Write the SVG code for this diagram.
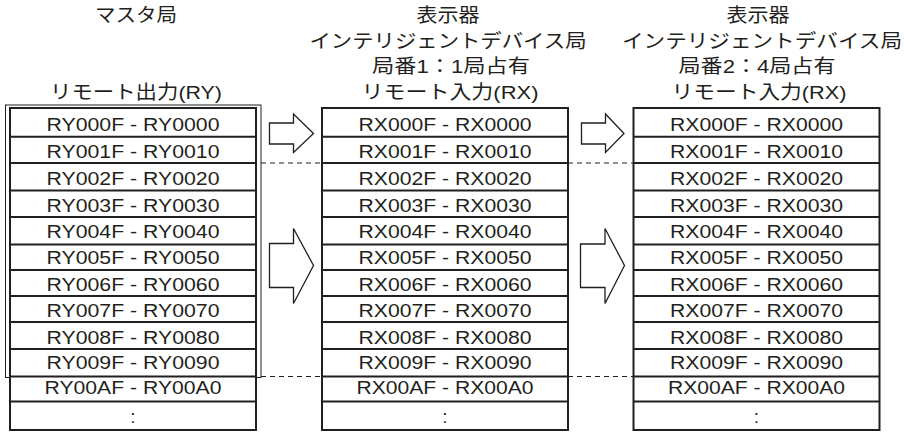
<svg xmlns="http://www.w3.org/2000/svg" width="904" height="434" viewBox="0 0 904 434">
<style>
.bg{fill:#ffffff}
.tbl{fill:#ffffff;stroke:#231f20;stroke-width:2}
.row{stroke:#231f20;stroke-width:2}
.frame{fill:none;stroke:#231f20;stroke-width:1}
.arrow{fill:#ffffff;stroke:#231f20;stroke-width:1.3;stroke-linejoin:miter}
.dash{stroke:#231f20;stroke-width:1;stroke-dasharray:5,4}
.hd{font-family:"Liberation Sans","Noto Sans CJK JP",sans-serif;font-size:19px;fill:#231f20;text-anchor:middle}
.cell{font-family:"Liberation Sans",Arial,sans-serif;font-size:19px;fill:#231f20;text-anchor:middle}
</style>
<defs>
<g id="rows">
<line class="row" x1="0" x2="246" y1="136.7" y2="136.7"/>
<line class="row" x1="0" x2="246" y1="163" y2="163"/>
<line class="row" x1="0" x2="246" y1="190.5" y2="190.5"/>
<line class="row" x1="0" x2="246" y1="217" y2="217"/>
<line class="row" x1="0" x2="246" y1="244.5" y2="244.5"/>
<line class="row" x1="0" x2="246" y1="270" y2="270"/>
<line class="row" x1="0" x2="246" y1="296" y2="296"/>
<line class="row" x1="0" x2="246" y1="322" y2="322"/>
<line class="row" x1="0" x2="246" y1="349" y2="349"/>
<line class="row" x1="0" x2="246" y1="376.5" y2="376.5"/>
<line class="row" x1="0" x2="246" y1="401.5" y2="401.5"/>
</g>
</defs>
<rect class="bg" x="0" y="0" width="904" height="434"/>

<g id="connectors">
<line class="dash" x1="261" y1="163" x2="322" y2="163"/>
<line class="dash" x1="568" y1="163" x2="633.5" y2="163"/>
<line class="dash" x1="261" y1="376.5" x2="322" y2="376.5"/>
<line class="dash" x1="568" y1="376.5" x2="633.5" y2="376.5"/>
<polygon class="arrow" points="269.5,123 293.5,123 293.5,114 313.5,133.5 293.5,152.5 293.5,144 269.5,144"/>
<polygon class="arrow" points="581.5,123 605.5,123 605.5,114 624,133.5 605.5,152.5 605.5,144 581.5,144"/>
<polygon class="arrow" points="269.5,243.5 293.5,243.5 293.5,228.5 313.5,265.5 293.5,303.5 293.5,287.5 269.5,287.5"/>
<polygon class="arrow" points="580.5,244 605,244 605,228.5 624.5,265.5 605,303.5 605,287.5 580.5,287.5"/>
</g>

<g id="master">
<text class="hd" x="136" y="22" textLength="82" lengthAdjust="spacingAndGlyphs">マスタ局</text>
<text class="hd" x="136" y="98.5" textLength="172" lengthAdjust="spacingAndGlyphs">リモート出力(RY)</text>
<rect class="frame" x="5.5" y="105" width="255.5" height="272.5"/>
<rect class="tbl" x="10" y="108" width="246" height="322"/>
<use href="#rows" x="10"/>
<g class="cell">
<text x="133" y="130.5" textLength="173" lengthAdjust="spacingAndGlyphs">RY000F - RY0000</text>
<text x="133" y="157.5" textLength="173" lengthAdjust="spacingAndGlyphs">RY001F - RY0010</text>
<text x="133" y="184.5" textLength="173" lengthAdjust="spacingAndGlyphs">RY002F - RY0020</text>
<text x="133" y="211.5" textLength="173" lengthAdjust="spacingAndGlyphs">RY003F - RY0030</text>
<text x="133" y="238" textLength="173" lengthAdjust="spacingAndGlyphs">RY004F - RY0040</text>
<text x="133" y="264" textLength="173" lengthAdjust="spacingAndGlyphs">RY005F - RY0050</text>
<text x="133" y="290.5" textLength="173" lengthAdjust="spacingAndGlyphs">RY006F - RY0060</text>
<text x="133" y="317" textLength="173" lengthAdjust="spacingAndGlyphs">RY007F - RY0070</text>
<text x="133" y="343.5" textLength="173" lengthAdjust="spacingAndGlyphs">RY008F - RY0080</text>
<text x="133" y="368.5" textLength="173" lengthAdjust="spacingAndGlyphs">RY009F - RY0090</text>
<text x="133" y="394" textLength="177" lengthAdjust="spacingAndGlyphs">RY00AF - RY00A0</text>
<text x="133" y="423">:</text>
</g>
</g>

<g id="device1">
<text class="hd" x="448" y="22" textLength="63" lengthAdjust="spacingAndGlyphs">表示器</text>
<text class="hd" x="448" y="47.5" textLength="277" lengthAdjust="spacingAndGlyphs">インテリジェントデバイス局</text>
<text class="hd" x="451" y="73" textLength="158" lengthAdjust="spacingAndGlyphs">局番1：1局占有</text>
<text class="hd" x="450" y="98.5" textLength="177" lengthAdjust="spacingAndGlyphs">リモート入力(RX)</text>
<rect class="tbl" x="322" y="108" width="246" height="322"/>
<use href="#rows" x="322"/>
<g class="cell">
<text x="445" y="130.5" textLength="173" lengthAdjust="spacingAndGlyphs">RX000F - RX0000</text>
<text x="445" y="157.5" textLength="173" lengthAdjust="spacingAndGlyphs">RX001F - RX0010</text>
<text x="445" y="184.5" textLength="173" lengthAdjust="spacingAndGlyphs">RX002F - RX0020</text>
<text x="445" y="211.5" textLength="173" lengthAdjust="spacingAndGlyphs">RX003F - RX0030</text>
<text x="445" y="238" textLength="173" lengthAdjust="spacingAndGlyphs">RX004F - RX0040</text>
<text x="445" y="264" textLength="173" lengthAdjust="spacingAndGlyphs">RX005F - RX0050</text>
<text x="445" y="290.5" textLength="173" lengthAdjust="spacingAndGlyphs">RX006F - RX0060</text>
<text x="445" y="317" textLength="173" lengthAdjust="spacingAndGlyphs">RX007F - RX0070</text>
<text x="445" y="343.5" textLength="173" lengthAdjust="spacingAndGlyphs">RX008F - RX0080</text>
<text x="445" y="368.5" textLength="173" lengthAdjust="spacingAndGlyphs">RX009F - RX0090</text>
<text x="445" y="394" textLength="177" lengthAdjust="spacingAndGlyphs">RX00AF - RX00A0</text>
<text x="445" y="423">:</text>
</g>
</g>

<g id="device2">
<text class="hd" x="758" y="22" textLength="63" lengthAdjust="spacingAndGlyphs">表示器</text>
<text class="hd" x="762" y="47.5" textLength="280" lengthAdjust="spacingAndGlyphs">インテリジェントデバイス局</text>
<text class="hd" x="757" y="73" textLength="157" lengthAdjust="spacingAndGlyphs">局番2：4局占有</text>
<text class="hd" x="759" y="98.5" textLength="175" lengthAdjust="spacingAndGlyphs">リモート入力(RX)</text>
<rect class="tbl" x="633.5" y="108" width="246" height="322"/>
<use href="#rows" x="633.5"/>
<g class="cell">
<text x="756.5" y="130.5" textLength="173" lengthAdjust="spacingAndGlyphs">RX000F - RX0000</text>
<text x="756.5" y="157.5" textLength="173" lengthAdjust="spacingAndGlyphs">RX001F - RX0010</text>
<text x="756.5" y="184.5" textLength="173" lengthAdjust="spacingAndGlyphs">RX002F - RX0020</text>
<text x="756.5" y="211.5" textLength="173" lengthAdjust="spacingAndGlyphs">RX003F - RX0030</text>
<text x="756.5" y="238" textLength="173" lengthAdjust="spacingAndGlyphs">RX004F - RX0040</text>
<text x="756.5" y="264" textLength="173" lengthAdjust="spacingAndGlyphs">RX005F - RX0050</text>
<text x="756.5" y="290.5" textLength="173" lengthAdjust="spacingAndGlyphs">RX006F - RX0060</text>
<text x="756.5" y="317" textLength="173" lengthAdjust="spacingAndGlyphs">RX007F - RX0070</text>
<text x="756.5" y="343.5" textLength="173" lengthAdjust="spacingAndGlyphs">RX008F - RX0080</text>
<text x="756.5" y="368.5" textLength="173" lengthAdjust="spacingAndGlyphs">RX009F - RX0090</text>
<text x="756.5" y="394" textLength="177" lengthAdjust="spacingAndGlyphs">RX00AF - RX00A0</text>
<text x="756.5" y="423">:</text>
</g>
</g>
</svg>
